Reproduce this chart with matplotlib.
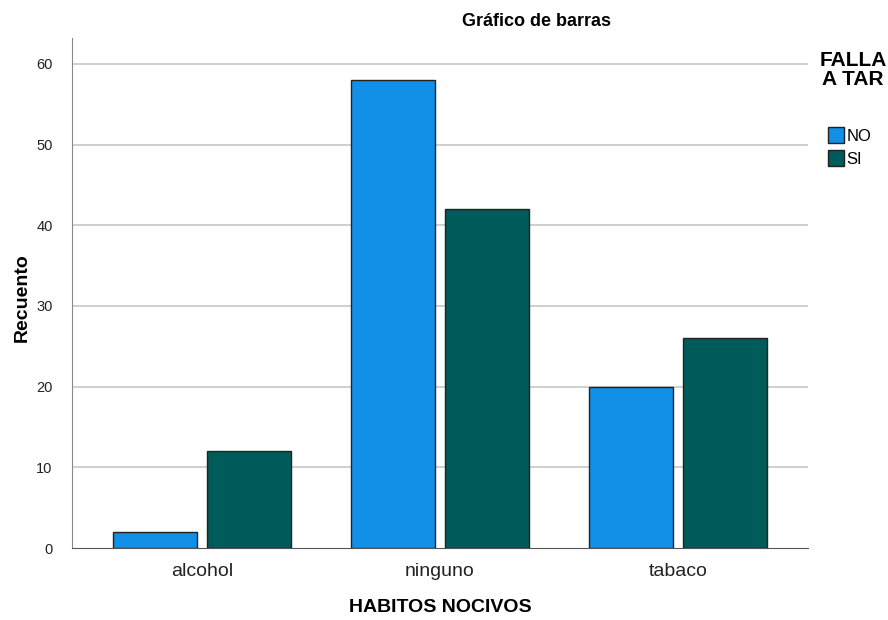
import numpy as np
import matplotlib.pyplot as plt
from matplotlib.patches import Patch

plt.rcParams['font.family'] = ['Liberation Sans', 'DejaVu Sans']

categories = ['alcohol', 'ninguno', 'tabaco']
no_counts = [2, 58, 20]
si_counts = [12, 42, 26]
series_names = ['NO', 'SI']

col_no = '#128FE6'
col_si = '#005B5B'

fig = plt.figure(figsize=(8.88, 6.2), dpi=100)
ax = fig.add_axes([0.0811, 0.1161, 0.8288, 0.8226])

x = np.arange(len(categories))
w = 0.353
off = 0.1975
ax.bar(x - off, no_counts, w, color=col_no, edgecolor='#222222', linewidth=1, zorder=3)
ax.bar(x + off, si_counts, w, color=col_si, edgecolor='#222222', linewidth=1, zorder=3)

ax.set_xlim(-0.546, 2.546)
ax.set_ylim(0, 63.2)
ax.set_yticks([0, 10, 20, 30, 40, 50, 60])
ax.set_xticks(x)
ax.set_xticklabels(categories, fontsize=14, color='#222222')
ax.tick_params(axis='y', labelsize=10.5, length=0, pad=14, colors='#222222')
ax.tick_params(axis='x', length=0, pad=11)
for yv in [10, 20, 30, 40, 50, 60]:
    ax.axhline(yv, color='#cccccc', linewidth=1.3, zorder=1)

for s in ['top', 'right']:
    ax.spines[s].set_visible(False)
ax.spines['left'].set_color('#888888')
ax.spines['bottom'].set_color('#555555')

# axis titles placed in figure pixels
fig.text(22 / 888, 1 - 298 / 620, 'Recuento', fontsize=14, fontweight='bold',
         rotation=90, ha='center', va='center')
fig.text(440 / 888, 1 - 608 / 620, 'HABITOS NOCIVOS', fontsize=14, fontweight='bold',
         ha='center', va='center')
fig.text(536 / 888, 1 - 22 / 620, 'Gráfico de barras', fontsize=13, fontweight='bold',
         ha='center', va='center')

fig.text(853 / 888, 1 - 70 / 620, 'FALLA\nA TAR', fontsize=15, fontweight='bold',
         ha='center', va='center', linespacing=1.05)
handles = [Patch(facecolor=col_no, edgecolor='#222222'),
           Patch(facecolor=col_si, edgecolor='#222222')]
fig.legend(handles, series_names, loc='upper left', bbox_to_anchor=(828 / 888, 1 - 127 / 620),
           frameon=False, fontsize=12, handlelength=0.95, handleheight=1.1,
           handletextpad=0.15, labelspacing=0.4, borderpad=0, borderaxespad=0)

fig.savefig('out.png', dpi=100)
